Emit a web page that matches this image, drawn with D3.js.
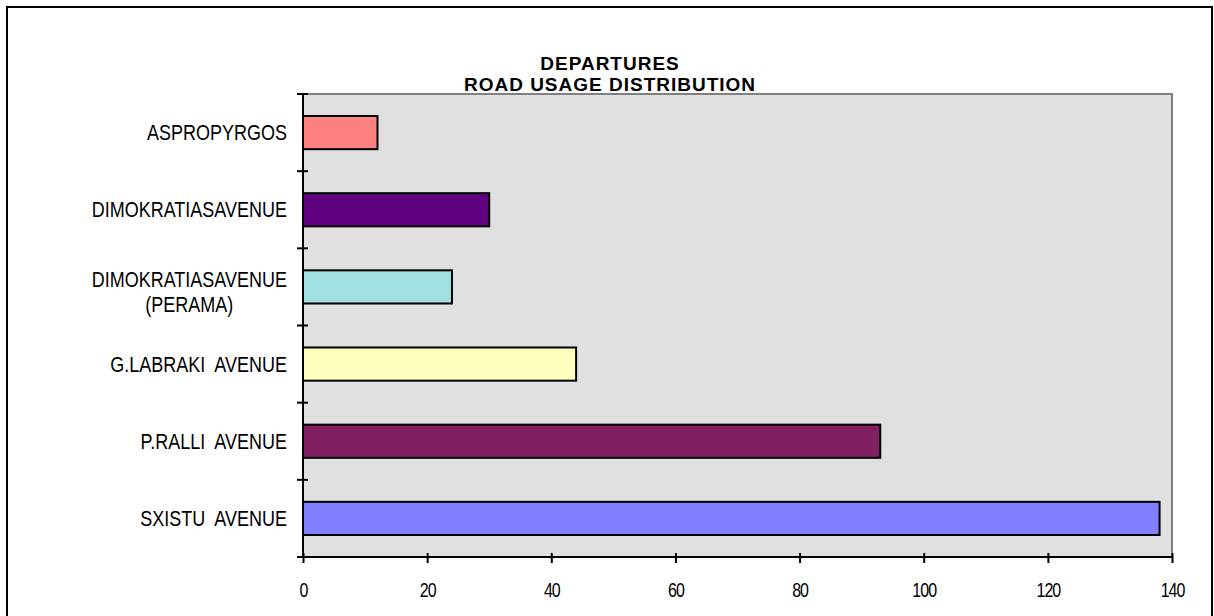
<!DOCTYPE html>
<html>
<head>
<meta charset="utf-8">
<script src="https://cdn.jsdelivr.net/npm/d3@7"></script>
<style>
  html, body { margin: 0; padding: 0; background: #ffffff; }
  svg { display: block; }
  text { font-family: "Liberation Sans", Arial, sans-serif; fill: #000; }
</style>
</head>
<body>
<svg id="chart" width="1214" height="616"></svg>
<script>
// Road usage (departures) per route
const categories = [
  ["ASPROPYRGOS"],
  ["DIMOKRATIASAVENUE"],
  ["DIMOKRATIASAVENUE", "(PERAMA)"],
  ["G.LABRAKI AVENUE"],
  ["P.RALLI AVENUE"],
  ["SXISTU AVENUE"]
];
const values = [12, 30, 24, 44, 93, 138];
const barColors = ["#ff8080", "#600080", "#a0e0e0", "#ffffc0", "#802060", "#8080ff"];
const xTicks = [0, 20, 40, 60, 80, 100, 120, 140];
const titleLines = ["DEPARTURES", "ROAD USAGE DISTRIBUTION"];

const svg = d3.select("#chart");

// outer chart frame
svg.append("rect")
  .attr("x", 7).attr("y", 7)
  .attr("width", 1205).attr("height", 640)
  .attr("fill", "#fff")
  .attr("stroke", "#000").attr("stroke-width", 2);

const plot = { left: 303, right: 1172, top: 94, bottom: 557 };

const x = d3.scaleLinear().domain([0, 140]).range([plot.left, plot.right]);
const keys = categories.map(d => d.join(" "));
const y = d3.scaleBand().domain(keys)
  .range([plot.top, plot.bottom])
  .paddingInner(0.57).paddingOuter(0.285);

// plot background
svg.append("rect")
  .attr("x", plot.left).attr("y", plot.top)
  .attr("width", plot.right - plot.left).attr("height", plot.bottom - plot.top)
  .attr("fill", "#e0e0e0");
// grey border on top and right
svg.append("path")
  .attr("d", `M${plot.left},${plot.top}H${plot.right}V${plot.bottom}`)
  .attr("fill", "none").attr("stroke", "#808080").attr("stroke-width", 2);

// bars
svg.append("g").selectAll("rect")
  .data(values)
  .join("rect")
  .attr("x", x(0))
  .attr("y", (d, i) => y(keys[i]))
  .attr("width", d => x(d) - x(0))
  .attr("height", y.bandwidth())
  .attr("fill", (d, i) => barColors[i])
  .attr("stroke", "#000").attr("stroke-width", 2);

// category axis: line plus crossing ticks at band boundaries
const yAxis = svg.append("g");
yAxis.append("line")
  .attr("x1", plot.left).attr("x2", plot.left)
  .attr("y1", plot.top).attr("y2", plot.bottom)
  .attr("stroke", "#000").attr("stroke-width", 2);
const step = y.step();
const boundaries = d3.range(keys.length + 1).map(i => plot.top + i * step);
yAxis.selectAll("line.tick")
  .data(boundaries)
  .join("line").attr("class", "tick")
  .attr("x1", plot.left - 6).attr("x2", plot.left + 5)
  .attr("y1", d => d).attr("y2", d => d)
  .attr("stroke", "#000").attr("stroke-width", 2);

// category labels (multi-line labels are centred on each other, block right-aligned)
const labelRight = 287;
categories.forEach((lines, i) => {
  const cy = y(keys[i]) + y.bandwidth() / 2;
  const g = svg.append("g");
  const nodes = lines.map(ln => g.append("text")
    .attr("font-size", 18).attr("word-spacing", 5).text(ln));
  const maxW = d3.max(nodes, n => n.node().getComputedTextLength());
  const cx = labelRight - maxW / 2;
  const base = lines.length > 1 ? cy + 0.5 : cy + 7.5;
  nodes.forEach((n, j) => {
    n.attr("text-anchor", "middle")
      .attr("transform", `translate(${cx},${base + j * 25}) scale(1,1.2)`);
  });
});

// value axis
const xAxis = d3.axisBottom(x).tickValues(xTicks).tickSize(0).tickPadding(0);
const gx = svg.append("g").attr("transform", `translate(0,${plot.bottom})`).call(xAxis);
gx.select(".domain").remove();
gx.selectAll(".tick text").remove();
svg.append("line")
  .attr("x1", plot.left).attr("x2", plot.right)
  .attr("y1", plot.bottom).attr("y2", plot.bottom)
  .attr("stroke", "#000").attr("stroke-width", 2);
gx.selectAll(".tick").append("line")
  .attr("y1", -4).attr("y2", 6)
  .attr("stroke", "#000").attr("stroke-width", 2);
gx.selectAll(".tick").append("text")
  .attr("transform", "translate(0,40) scale(1,1.3)")
  .attr("text-anchor", "middle")
  .attr("font-size", 16)
  .attr("letter-spacing", -1)
  .text(d => d);

// title
svg.append("g").selectAll("text")
  .data(titleLines)
  .join("text")
  .attr("x", 610)
  .attr("y", (d, i) => i === 0 ? 69.5 : 91)
  .attr("text-anchor", "middle")
  .attr("font-size", 19)
  .attr("font-weight", "bold")
  .attr("letter-spacing", 1)
  .text(d => d);
</script>
</body>
</html>
